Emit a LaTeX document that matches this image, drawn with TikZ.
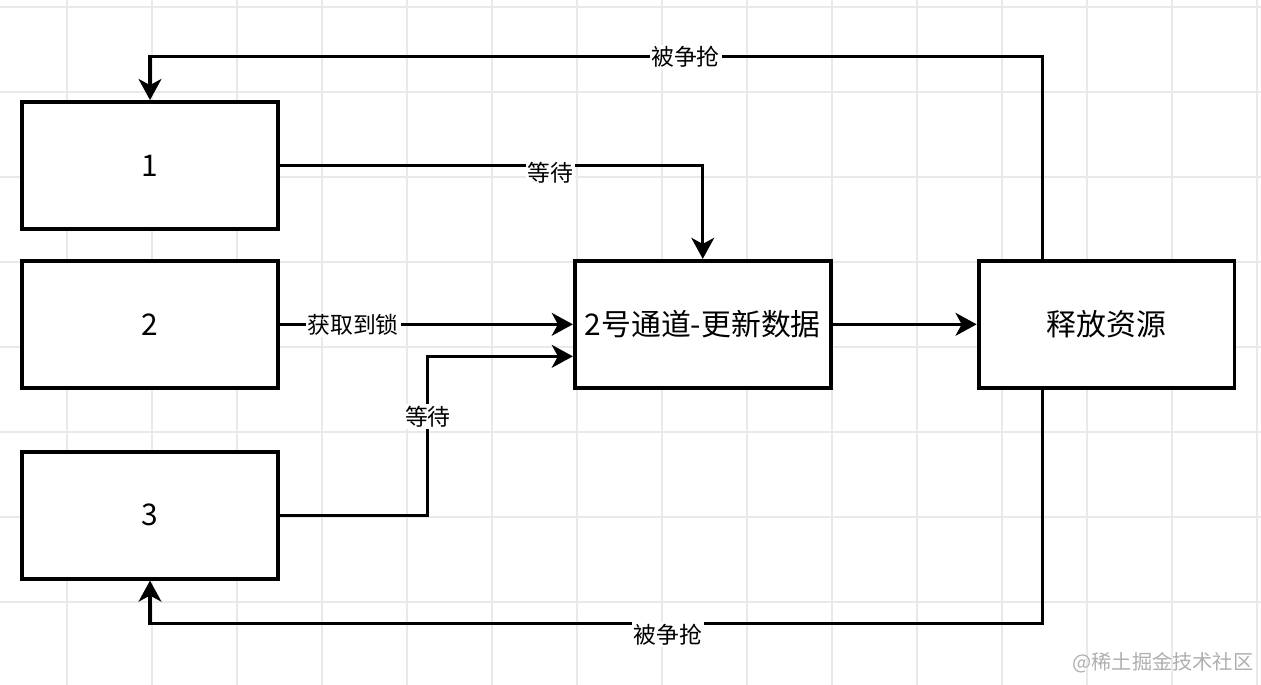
\documentclass[tikz,border=0pt]{standalone}
\usepackage{fontspec}
\setmainfont{Noto Sans CJK SC}
\usepackage{tikz}
\usetikzlibrary{positioning,arrows.meta,calc}
\definecolor{gridclr}{RGB}{233,233,233}
\definecolor{markclr}{RGB}{175,175,175}
\tikzset{
  blk/.style={rectangle,draw=black,line width=2.2pt,fill=white,
              minimum width=5.12cm,minimum height=2.54cm,inner sep=2pt,
              font=\fontsize{17}{20}\selectfont},
  edge/.style={-{Stealth[length=12pt,width=13pt,inset=3.5pt]},line width=1.8pt},
  lbl/.style={fill=white,inner sep=1pt,font=\fontsize{13}{15}\selectfont},
  gridline/.style={draw=gridclr,line width=0.6pt},
}

\begin{document}
\begin{tikzpicture}[x=0.02cm,y=-0.02cm,
    wm/.style={text=markclr,font=\fontsize{11.5}{14}\selectfont},
  ]
\useasboundingbox[fill=white] (0,0) rectangle (1261,685);
\foreach \x in {67,152,...,1261} \draw[gridline] (\x,0) -- (\x,685);
\foreach \y in {7,92,...,685} \draw[gridline] (0,\y) -- (1261,\y);
\node[blk] (one) at (150,165.5) {1};
\node[blk, below=0.56cm of one]   (two)   {2};
\node[blk, below=1.20cm of two]   (three) {3};
\node[blk, right=5.86cm of two]   (upd)   {2号通道-更新数据};
\node[blk, right=2.88cm of upd]   (rel)   {释放资源};
\coordinate (rtop) at ([xshift=-1.28cm]rel.north);
\coordinate (rbot) at ([xshift=-1.28cm]rel.south);
\coordinate (cin)  at ([yshift=-0.64cm]upd.west);
\draw[edge] (rtop) -- ++(0,-202) -| node[lbl,pos=0.2] {被争抢} (one.north);
\draw[edge] (rbot) -- ++(0,234) -| node[lbl,pos=0.21,yshift=-0.22cm] {被争抢} (three.south);
\draw[edge] (one.east) -| node[lbl,pos=0.32,yshift=-0.14cm] {等待} (upd.north);
\draw[edge] (two.east) -- node[lbl,pos=0.25] {获取到锁} (upd.west);
\draw[edge] (three.east) -- ++(148,0) |- node[lbl,pos=0.31] {等待} (cin);
\draw[edge] (upd.east) -- (rel.west);
\node[wm] (mark) at (1163,663) {@稀土掘金技术社区};
\end{tikzpicture}
\end{document}
